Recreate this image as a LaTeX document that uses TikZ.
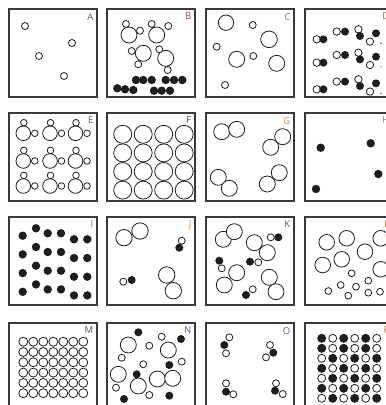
\documentclass[tikz,border=0pt]{standalone}
\usepackage{fontspec}
\setsansfont{Open Sans}
\definecolor{ink}{HTML}{1E1E1E}
\definecolor{rim}{HTML}{3A3A3A}
\definecolor{tagA}{HTML}{555B6E}
\definecolor{tagB}{HTML}{8E4A3A}
\definecolor{tagC}{HTML}{A86A4A}
\definecolor{tagD}{HTML}{B8622C}
\definecolor{tagE}{HTML}{4A5A80}
\definecolor{tagF}{HTML}{404A6A}
\definecolor{tagG}{HTML}{D9822B}
\definecolor{tagH}{HTML}{C8702A}
\definecolor{tagI}{HTML}{3A78C0}
\definecolor{tagJ}{HTML}{D08838}
\definecolor{tagK}{HTML}{50607A}
\definecolor{tagL}{HTML}{C87838}
\definecolor{tagM}{HTML}{5A4AA0}
\definecolor{tagN}{HTML}{3A5AB0}
\definecolor{tagO}{HTML}{3860C0}
\definecolor{tagP}{HTML}{C87A40}
\tikzset{
  panel/.style={draw=rim, line width=1.4pt},
  wc/.style={draw=ink, fill=white, line width=0.8pt},
  bc/.style={fill=ink},
  tag/.style={font=\sffamily\fontsize{9.5}{10}\selectfont, anchor=north east, inner sep=0pt},
}

\begin{document}
\begin{tikzpicture}[x=1pt, y=-1pt]
  \useasboundingbox (0,0) rectangle (386,405);
  \clip (0,0) rectangle (386,405);

  % row 1
  \begin{scope}[shift={(9,9)}]
    \draw[panel] (0,0) rectangle (88,88);
    \node[tag, text=tagA] (labA) at (84.5,4) {A};
    \foreach \x/\y in {16/17, 63/34, 30/47, 55/67}
      \draw[wc] (\x,\y) circle[radius=3.5];
  \end{scope}
  \begin{scope}[shift={(107,9)}]
    \draw[panel] (0,0) rectangle (88,88);
    \node[tag, text=tagB] (labB) at (84.5,4) {B};
    \foreach \x/\y in {22/26, 49.7/26, 36.3/44.3, 58.7/49.3}
      \draw[wc] (\x,\y) circle[radius=8];
    \foreach \x/\y in {19/15, 33/21.7, 44.7/15, 61.3/17, 24.7/42, 31.3/55.3, 52.3/40.3, 60.7/61}
      \draw[wc] (\x,\y) circle[radius=3.5];
    \foreach \x/\y in {29/71, 36.3/71, 44.7/71, 58.7/71, 67/71, 75.3/71,
                       10.3/79.3, 18/80.3, 26.3/81, 47/81.7, 54.7/81.7, 63/81.7}
      \fill[bc] (\x,\y) circle[radius=4.2];
  \end{scope}
  \begin{scope}[shift={(206,9)}]
    \draw[panel] (0,0) rectangle (88,88);
    \node[tag, text=tagC] (labC) at (84.5,4) {C};
    \foreach \x/\y/\r in {20/13.7/7.7, 46.7/16/3.5, 63/30.3/8.3, 10.7/37.7/3.5,
                          30.7/50.3/8, 47.3/47/3.5, 70.7/54.3/8, 19/76/3.5}
      \draw[wc] (\x,\y) circle[radius=\r];
  \end{scope}
  \begin{scope}[shift={(305,9)}]
    \draw[panel] (0,0) rectangle (88,88);
    \node[tag, text=tagD] (labD) at (84.5,4) {D};
    \foreach \by in {30.3, 53.7, 80.3} {
      \foreach \dx/\dy in {0/0, 20/-7.7, 41.7/-10, 53.3/2.3}
        \draw[wc] ({11.7+\dx},{\by+\dy}) circle[radius=3.7];
      \foreach \dx/\dy in {6.7/0, 28.3/-7.7, 43.3/-3.3, 59.3/-6}
        \fill[bc] ({11.7+\dx},{\by+\dy}) circle[radius=4];
      \fill[bc] (76,{\by+4}) circle[radius=0.7];
    }
  \end{scope}

  % row 2
  \begin{scope}[shift={(9,113)}]
    \draw[panel] (0,0) rectangle (88,88);
    \node[tag, text=tagE] (labE) at (84.5,4) {E};
    \foreach \bx in {14.3, 41, 66.5}
      \foreach \by in {20.3, 48, 73} {
        \draw[wc] (\bx,\by) circle[radius=7.3];
        \draw[wc] ({\bx+0.5},{\by-10.6}) circle[radius=3.3];
        \draw[wc] ({\bx+11.5},\by) circle[radius=3.3];
      }
  \end{scope}
  \begin{scope}[shift={(107,113)}]
    \draw[panel] (0,0) rectangle (88,88);
    \node[tag, text=tagF] (labF) at (84.5,4) {F};
    \foreach \i in {0,...,3}
      \foreach \j in {0,...,3}
        \draw[wc] ({15.7+20.5*\i},{21.3+18.6*\j}) circle[radius=9];
  \end{scope}
  \begin{scope}[shift={(206,113)}]
    \draw[panel] (0,0) rectangle (88,88);
    \node[tag, text=tagG] (labG) at (84.5,4) {G};
    \foreach \x/\y in {15.7/18.7, 30.7/16.3, 64.7/34.3, 76.7/23.7,
                       12.3/64.3, 23.3/75.3, 61.3/71, 73.3/59.7}
      \draw[wc] (\x,\y) circle[radius=8];
  \end{scope}
  \begin{scope}[shift={(305,113)}]
    \draw[panel] (0,0) rectangle (88,88);
    \node[tag, text=tagH] (labH) at (84.5,4) {H};
    \foreach \x/\y in {15.7/34.7, 65.7/30.3, 73.3/61, 11/76}
      \fill[bc] (\x,\y) circle[radius=4.2];
  \end{scope}

  % row 3
  \begin{scope}[shift={(9,217)}]
    \draw[panel] (0,0) rectangle (88,88);
    \node[tag, text=tagI] (labI) at (84.5,4) {I};
    \foreach \x/\y in {13.7/18.7, 27/11.3, 38.7/16.3, 52/16.3, 65/22.3, 78.3/22.3}
      \foreach \j in {0,...,3}
        \fill[bc] (\x,{\y+18.7*\j}) circle[radius=4.2];
  \end{scope}
  \begin{scope}[shift={(107,217)}]
    \draw[panel] (0,0) rectangle (88,88);
    \node[tag, text=tagJ] (labJ) at (84.5,4) {J};
    \foreach \x/\y in {17/20.7, 33/14, 59.7/58, 66.3/73.7}
      \draw[wc] (\x,\y) circle[radius=8.2];
    \foreach \x/\y in {74.7/23.7, 16.3/64.7}
      \draw[wc] (\x,\y) circle[radius=3.5];
    \foreach \x/\y in {72.3/30.7, 24.7/63}
      \fill[bc] (\x,\y) circle[radius=4];
  \end{scope}
  \begin{scope}[shift={(206,217)}]
    \draw[panel] (0,0) rectangle (88,88);
    \node[tag, text=tagK] (labK) at (84.5,4) {K};
    \foreach \x/\y in {17.3/22.3, 28.3/14.7, 48.3/25.7, 61.3/35.7,
                       30.7/55.7, 18.3/68, 63.3/60.3, 70/74.7}
      \draw[wc] (\x,\y) circle[radius=8];
    \foreach \x/\y in {64.7/20.3, 15.7/51.3, 52.3/45.3, 46.7/72.3}
      \draw[wc] (\x,\y) circle[radius=3.5];
    \foreach \x/\y in {72.3/20.3, 13.3/43.7, 44/44.7, 40/78}
      \fill[bc] (\x,\y) circle[radius=4];
  \end{scope}
  \begin{scope}[shift={(305,217)}]
    \draw[panel] (0,0) rectangle (88,88);
    \node[tag, text=tagL] (labL) at (84.5,4) {L};
    \foreach \x/\y in {21.7/25.3, 41.7/21.3, 75.7/21.3, 17.7/48,
                       36.7/42.3, 60/34.7, 75.7/52.3}
      \draw[wc] (\x,\y) circle[radius=7.8];
    \foreach \x/\y in {46.7/56.3, 35.7/68, 51/69.7, 63.3/63.7,
                       23.3/74, 43.3/78.7, 63.3/75.7, 75/74.7}
      \draw[wc] (\x,\y) circle[radius=3.4];
  \end{scope}

  % row 4
  \begin{scope}[shift={(9,323)}]
    \draw[panel] (0,0) rectangle (88,88);
    \node[tag, text=tagM] (labM) at (84.5,4) {M};
    \foreach \i in {0,...,6}
      \foreach \j in {0,...,5}
        \draw[wc] ({14.3+10*\i},{18.7+10.3*\j}) circle[radius=4.5];
  \end{scope}
  \begin{scope}[shift={(107,323)}]
    \draw[panel] (0,0) rectangle (88,88);
    \node[tag, text=tagN] (labN) at (84.5,4) {N};
    \foreach \x/\y in {21.3/22, 61.3/27, 11.3/51.3, 50.3/56, 65.7/55.3, 31.3/63}
      \draw[wc] (\x,\y) circle[radius=8];
    \foreach \x/\y in {42.3/22.7, 54.7/13.7, 14.7/34.7, 36.3/41.3,
                       74.7/38.7, 9/64.7, 42.3/72}
      \draw[wc] (\x,\y) circle[radius=3.5];
    \foreach \x/\y in {31.3/9.3, 74/16, 62.3/42, 29.7/51.3, 17/76, 62.3/72.7}
      \fill[bc] (\x,\y) circle[radius=4];
  \end{scope}
  \begin{scope}[shift={(206,323)}]
    \draw[panel] (0,0) rectangle (88,88);
    \node[tag, text=tagO] (labO) at (84.5,4) {O};
    \foreach \x/\y in {23.3/14.3, 20/30.3, 64/22, 60/34.3,
                       20/60.3, 27.3/71.3, 70/60.3, 76.7/71}
      \draw[wc] (\x,\y) circle[radius=3.5];
    \foreach \x/\y in {18.3/22, 67.3/29.7, 20/68.7, 69/67.7}
      \fill[bc] (\x,\y) circle[radius=4];
  \end{scope}
  \begin{scope}[shift={(305,323)}]
    \draw[panel] (0,0) rectangle (88,88);
    \node[tag, text=tagP] (labP) at (84.5,4) {P};
    \foreach \j/\s in {0/0, 1/0, 2/1, 3/0, 4/1, 5/0, 6/1}
      \foreach \i in {0,...,5} {
        \pgfmathtruncatemacro\k{mod(\i+\s,2)}
        \ifnum\k=0
          \fill[bc] ({16.7+11*\i},{15.3+10*\j}) circle[radius=4.5];
        \else
          \draw[wc] ({16.7+11*\i},{15.3+10*\j}) circle[radius=4];
        \fi
      }
  \end{scope}
\end{tikzpicture}
\end{document}
